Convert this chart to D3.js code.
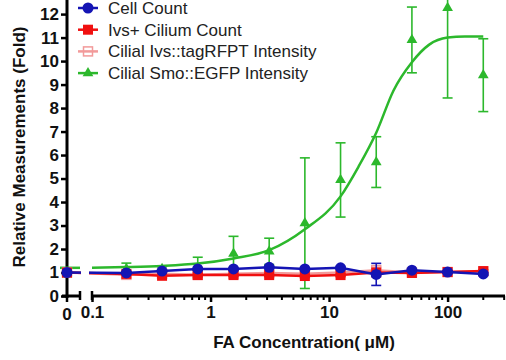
<!DOCTYPE html>
<html>
<head>
<meta charset="utf-8">
<script src="https://cdn.jsdelivr.net/npm/d3@7"></script>
<style>
  body { margin: 0; background: #fff; }
  svg { display: block; font-family: "Liberation Sans", Arial, sans-serif; }
</style>
</head>
<body>
<svg width="506" height="360"></svg>
<script>
// concentrations (uM); 0 is drawn on its own little segment left of the break
var conc = [0, 0.195, 0.39, 0.78, 1.5625, 3.125, 6.25, 12.5, 25, 50, 100, 200];

var cellCount = [1.0, 0.98, 1.06, 1.15, 1.15, 1.22, 1.15, 1.2, 0.92, 1.1, 1.02, 0.94];
var cellErr   = [0.05, 0.05, 0.05, 0.05, 0.05, 0.05, 0.05, 0.05, 0.47, 0.05, 0.05, 0.05];

var ivsCount = [1.0, 0.94, 0.86, 0.89, 0.89, 0.89, 0.85, 0.89, 1.0, 0.98, 1.02, 1.06];
var ivsErr   = [0.05, 0.05, 0.05, 0.08, 0.05, 0.05, 0.05, 0.05, 0.05, 0.05, 0.05, 0.05];

var rfpInt = [1.0, 0.9, 0.95, 0.9, 0.95, 0.98, 0.95, 1.0, 1.1, 1.0, 1.02, 1.05];
var rfpErr = [0.1, 0.1, 0.08, 0.1, 0.08, 0.08, 0.08, 0.08, 0.12, 0.08, 0.08, 0.08];

var smoInt = [1.0, 1.15, 1.15, 1.2, 1.8, 1.9, 3.1, 4.94, 5.7, 10.9, 12.26, 9.4];
var smoErr = [0.2, 0.25, 0.1, 0.45, 0.74, 0.56, 2.78, 1.58, 1.08, 1.4, 3.83, 1.55];

// fitted curve for Smo::EGFP
var fitConc = [0.1, 0.195, 0.39, 0.78, 1.5625, 3.125, 6.25, 12.5, 17.7, 25, 35, 50, 70, 100, 140, 200];
var fitVal  = [1.2, 1.23, 1.28, 1.38, 1.6, 1.95, 2.84, 4.24, 5.5, 6.95, 8.75, 9.95, 10.7, 11.0, 11.05, 11.05];

var yTicks = [0, 1, 2, 3, 4, 5, 6, 7, 8, 9, 10, 11, 12];
var xTicks = [0.1, 1, 10, 100];

var seriesNames = ["Cell Count", "Ivs+ Cilium Count", "Cilial Ivs::tagRFPT Intensity", "Cilial Smo::EGFP Intensity"];

var blue = "#1414b4", red = "#f01010", pink = "#f29a9a", green = "#2cb82c";

var svg = d3.select("svg");

var y = d3.scaleLinear().domain([0, 12.6]).range([296, 0]);
var xLog = d3.scaleLog().domain([0.1, 305]).range([92, 505]);
var xZero = 67;
var px = function(c) { return c === 0 ? xZero : xLog(c); };

// clip out the axis break
var defs = svg.append("defs");
var clip = defs.append("clipPath").attr("id", "brk");
clip.append("rect").attr("x", 0).attr("y", 0).attr("width", 81).attr("height", 360);
clip.append("rect").attr("x", 89).attr("y", 0).attr("width", 420).attr("height", 360);

// y axis
var yAxis = svg.append("g")
  .attr("transform", "translate(" + xZero + ",0)")
  .call(d3.axisLeft(y).tickValues(yTicks).tickSize(6).tickPadding(2).tickFormat(d3.format("d")));
yAxis.select(".domain").remove();
yAxis.append("line").attr("x1", 0).attr("x2", 0).attr("y1", 0).attr("y2", 298)
  .attr("stroke", "#000").attr("stroke-width", 3);
yAxis.selectAll(".tick line").attr("stroke-width", 2.5);
yAxis.selectAll(".tick text").attr("font-size", 17).attr("font-weight", "bold").attr("fill", "#111");

// x axis, zero segment
var xa = svg.append("g");
xa.append("line").attr("x1", 62).attr("x2", 81).attr("y1", y(0)).attr("y2", y(0))
  .attr("stroke", "#000").attr("stroke-width", 3);
xa.append("line").attr("x1", xZero).attr("x2", xZero).attr("y1", y(0)).attr("y2", y(0) + 6)
  .attr("stroke", "#000").attr("stroke-width", 2.5);
xa.append("line").attr("x1", 80).attr("x2", 80).attr("y1", y(0) - 5).attr("y2", y(0) + 4)
  .attr("stroke", "#000").attr("stroke-width", 2.5);
xa.append("text").attr("x", xZero).attr("y", y(0) + 24).attr("text-anchor", "middle")
  .attr("font-size", 17).attr("font-weight", "bold").attr("fill", "#111").text("0");

// x axis, log segment
var xAxis = svg.append("g")
  .attr("transform", "translate(0," + y(0) + ")")
  .call(d3.axisBottom(xLog).tickValues(xTicks).tickSize(6).tickPadding(4).tickFormat(d3.format("")));
xAxis.select(".domain").remove();
xAxis.selectAll(".tick line").attr("stroke-width", 2.5);
xAxis.selectAll(".tick text").attr("font-size", 17).attr("font-weight", "bold").attr("fill", "#111");
xAxis.append("line").attr("x1", xLog(0.1)).attr("x2", 505).attr("y1", 0).attr("y2", 0)
  .attr("stroke", "#000").attr("stroke-width", 3);
xAxis.append("line").attr("x1", xLog(0.1)).attr("x2", xLog(0.1)).attr("y1", -5).attr("y2", 4)
  .attr("stroke", "#000").attr("stroke-width", 2.5);
var minor = [];
[0.1, 1, 10, 100].forEach(function(d) {
  for (var k = 2; k <= 9; k++) if (d * k < 305) minor.push(d * k);
});
xAxis.selectAll(".minor").data(minor).enter().append("line")
  .attr("x1", xLog).attr("x2", xLog).attr("y1", 0).attr("y2", 4)
  .attr("stroke", "#000").attr("stroke-width", 2);

// axis titles
svg.append("text").attr("x", 304).attr("y", 348).attr("text-anchor", "middle")
  .attr("font-size", 17).attr("font-weight", "bold").attr("fill", "#111")
  .text("FA Concentration( \u03bcM)");
svg.append("text").attr("transform", "translate(25,147) rotate(-90)").attr("text-anchor", "middle")
  .attr("font-size", 17).attr("font-weight", "bold").attr("fill", "#111")
  .text("Relative Measurements (Fold)");

var plot = svg.append("g");

function marker(g, type, color) {
  if (type === "circle") {
    g.append("circle").attr("r", 5.5).attr("fill", color);
  } else if (type === "square") {
    g.append("rect").attr("x", -5).attr("y", -5).attr("width", 10).attr("height", 10).attr("fill", color);
  } else if (type === "open") {
    g.append("rect").attr("x", -4.5).attr("y", -4.5).attr("width", 9).attr("height", 9)
      .attr("fill", "none").attr("stroke", color).attr("stroke-width", 1.5);
  } else {
    g.append("path").attr("d", d3.symbol(d3.symbolTriangle, 50)()).attr("fill", color);
  }
}

function drawSeries(vals, errs, color, type, withLine) {
  var g = plot.append("g");
  var pts = conc.map(function(c, i) { return { c: c, v: vals[i], e: errs[i] }; });
  // error bars
  var eb = g.selectAll(".eb").data(pts).enter().append("g");
  eb.append("line").attr("x1", function(d) { return px(d.c); }).attr("x2", function(d) { return px(d.c); })
    .attr("y1", function(d) { return y(d.v - d.e); }).attr("y2", function(d) { return y(d.v + d.e); })
    .attr("stroke", color).attr("stroke-width", 1.6);
  [-1, 1].forEach(function(s) {
    eb.append("line").attr("x1", function(d) { return px(d.c) - 5; }).attr("x2", function(d) { return px(d.c) + 5; })
      .attr("y1", function(d) { return y(d.v + s * d.e); }).attr("y2", function(d) { return y(d.v + s * d.e); })
      .attr("stroke", color).attr("stroke-width", 1.6);
  });
  if (withLine) {
    g.append("path").datum(pts)
      .attr("clip-path", "url(#brk)")
      .attr("d", d3.line().x(function(d) { return px(d.c); }).y(function(d) { return y(d.v); }))
      .attr("fill", "none").attr("stroke", color).attr("stroke-width", 2.5);
  }
  g.selectAll(".m").data(pts).enter().append("g")
    .attr("transform", function(d) { return "translate(" + px(d.c) + "," + y(d.v) + ")"; })
    .each(function() { marker(d3.select(this), type, color); });
}

// green fit curve
var fitPts = fitConc.map(function(c, i) { return { c: c, v: fitVal[i] }; });
plot.append("path").datum(fitPts)
  .attr("d", d3.line().x(function(d) { return xLog(d.c); }).y(function(d) { return y(d.v); }).curve(d3.curveMonotoneX))
  .attr("fill", "none").attr("stroke", green).attr("stroke-width", 2.5);
plot.append("line").attr("x1", 60).attr("x2", 80).attr("y1", y(fitVal[0])).attr("y2", y(fitVal[0]))
  .attr("stroke", green).attr("stroke-width", 2.5);

drawSeries(smoInt, smoErr, green, "tri", false);
drawSeries(rfpInt, rfpErr, pink, "open", true);
drawSeries(ivsCount, ivsErr, red, "square", true);
drawSeries(cellCount, cellErr, blue, "circle", true);

// legend
var legColors = [blue, red, pink, green];
var legTypes = ["circle", "square", "open", "tri"];
var leg = svg.append("g").selectAll("g").data(seriesNames).enter().append("g")
  .attr("transform", function(d, i) { return "translate(78," + (8 + i * 21.7) + ")"; });
leg.append("line").attr("x1", 0).attr("x2", 20).attr("stroke", function(d, i) { return legColors[i]; })
  .attr("stroke-width", 2.5);
leg.each(function(d, i) {
  var m = d3.select(this).append("g").attr("transform", "translate(10,0)");
  marker(m, legTypes[i], legColors[i]);
});
leg.append("text").attr("x", 30).attr("y", 6).attr("font-size", 17).attr("fill", "#222")
  .text(function(d) { return d; });
</script>
</body>
</html>
